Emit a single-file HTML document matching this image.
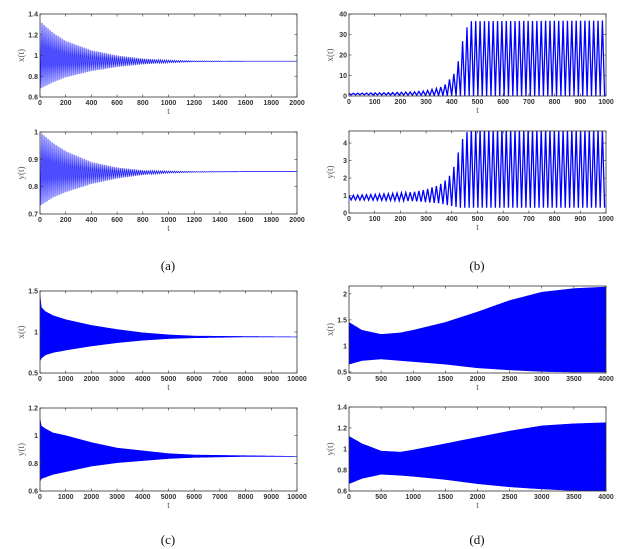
<!DOCTYPE html>
<html><head><meta charset="utf-8"><style>
html,body{margin:0;padding:0;background:#fff;}
svg{display:block;}
.tk{font-family:"Liberation Sans",sans-serif;font-size:7px;font-weight:bold;fill:#333;}
.al{font-family:"Liberation Serif",serif;font-size:9px;fill:#555;}
.pl{font-family:"Liberation Serif",serif;font-size:13px;fill:#111;}
</style></head><body>
<svg id="fig" width="628" height="549" viewBox="0 0 628 549" xmlns="http://www.w3.org/2000/svg">
<text class="pl" x="168" y="270" text-anchor="middle">(a)</text>
<text class="pl" x="477" y="270" text-anchor="middle">(b)</text>
<text class="pl" x="168" y="544" text-anchor="middle">(c)</text>
<text class="pl" x="477" y="544" text-anchor="middle">(d)</text>
</svg>
<script>
// ---- data (envelope samples) ----
const aT = [0,100,200,400,600,800,1000,1200,1600,2000];
const aXUp = [1.33,1.22,1.14,1.05,1.0,0.97,0.955,0.948,0.945,0.945];
const aXLo = [0.68,0.74,0.79,0.85,0.89,0.915,0.93,0.94,0.945,0.945];
const aYUp = [1.0,0.96,0.93,0.89,0.87,0.86,0.857,0.855,0.855,0.855];
const aYLo = [0.73,0.76,0.78,0.81,0.83,0.843,0.85,0.853,0.855,0.855];

const bT = [0,150,250,300,350,370,390,405,420,435,450,470,1000];
const bXUp = [1.3,1.6,2,2.5,4,5,8,10,14,23,31,36.5,36.8];
const bXLo = [0.6,0.5,0.4,0.3,0.2,0.15,0.1,0.05,0.02,0.01,0,0,0];
const bYUp = [1.0,1.1,1.2,1.35,1.6,1.8,2.1,2.5,3.2,4.0,4.5,4.8,4.8];
const bYLo = [0.75,0.72,0.68,0.62,0.55,0.5,0.42,0.38,0.33,0.3,0.3,0.3,0.3];

const cT = [0,50,200,500,1000,2000,3000,4000,5000,6000,8000,10000];
const cXUp = [1.45,1.3,1.25,1.2,1.15,1.08,1.03,0.99,0.965,0.95,0.945,0.94];
const cXLo = [0.65,0.68,0.72,0.75,0.78,0.83,0.87,0.9,0.92,0.93,0.94,0.94];
const cYUp = [1.12,1.07,1.05,1.02,1.0,0.95,0.91,0.89,0.87,0.86,0.855,0.85];
const cYLo = [0.67,0.69,0.7,0.72,0.74,0.78,0.805,0.82,0.835,0.843,0.85,0.85];

const dT = [0,200,500,800,1000,1500,2000,2500,3000,3500,4000];
const dXUp = [1.45,1.3,1.22,1.25,1.3,1.45,1.65,1.87,2.03,2.1,2.13];
const dXLo = [0.65,0.72,0.75,0.72,0.7,0.65,0.58,0.54,0.51,0.5,0.5];
const dYUp = [1.12,1.05,0.98,0.97,0.99,1.05,1.11,1.17,1.22,1.24,1.25];
const dYLo = [0.67,0.72,0.76,0.75,0.74,0.71,0.67,0.64,0.62,0.605,0.6];

const aXTicks = [0,200,400,600,800,1000,1200,1400,1600,1800,2000];
const bXTicks = [0,100,200,300,400,500,600,700,800,900,1000];
const cXTicks = [0,1000,2000,3000,4000,5000,6000,7000,8000,9000,10000];
const dXTicks = [0,500,1000,1500,2000,2500,3000,3500,4000];
const aXYTicks = [0.6,0.8,1,1.2,1.4];
const aYYTicks = [0.7,0.8,0.9,1];
const bXYTicks = [0,10,20,30,40];
const bYYTicks = [0,1,2,3,4];
const cXYTicks = [0.5,1,1.5];
const cYYTicks = [0.6,0.8,1,1.2];
const dXYTicks = [0.5,1,1.5,2];
const dYYTicks = [0.6,0.8,1,1.2,1.4];

const NS='http://www.w3.org/2000/svg';
const fig=document.getElementById('fig');
function mk(tag,attrs,parent){const e=document.createElementNS(NS,tag);for(const k in attrs)e.setAttribute(k,attrs[k]);(parent||fig).appendChild(e);return e;}
function interp(ts,vs,t){if(t<=ts[0])return vs[0];for(let i=1;i<ts.length;i++){if(t<=ts[i]){const f=(t-ts[i-1])/(ts[i]-ts[i-1]);return vs[i-1]+f*(vs[i]-vs[i-1]);}}return vs[vs.length-1];}

function panel(id,box,xlim,ylim,xt,yt,ylab,T,UP,LO,period,lw){
  const g=mk('g',{});
  
  
  const [x0,y0,x1,y1]=box;
  const sx=v=>x0+(v-xlim[0])/(xlim[1]-xlim[0])*(x1-x0);
  const sy=v=>y1-(v-ylim[0])/(ylim[1]-ylim[0])*(y1-y0);
  const cp=mk('clipPath',{id:'cp-'+id},g);mk('rect',{x:x0,y:y0,width:x1-x0,height:y1-y0},cp);
  let p;
  if(period>0){
    let d='';let t=xlim[0];let up=true;
    while(t<=xlim[1]){const v=up?interp(T,UP,t):interp(T,LO,t);d+=(d?'L':'M')+sx(t).toFixed(2)+' '+sy(v).toFixed(2);t+=period/2;up=!up;}
    p=mk('path',{d:d,fill:'none',stroke:'#0000ff','stroke-width':lw,'clip-path':'url(#cp-'+id+')'},g);
  } else {
    const N=400;let d='';
    for(let i=0;i<=N;i++){const t=xlim[0]+(xlim[1]-xlim[0])*i/N;d+=(i?'L':'M')+sx(t).toFixed(2)+' '+sy(interp(T,UP,t)).toFixed(2);}
    for(let i=N;i>=0;i--){const t=xlim[0]+(xlim[1]-xlim[0])*i/N;d+='L'+sx(t).toFixed(2)+' '+sy(interp(T,LO,t)).toFixed(2);}
    d+='Z';
    p=mk('path',{d:d,fill:'#0000ff',stroke:'#0000ff','stroke-width':0.6,'stroke-linejoin':'round','clip-path':'url(#cp-'+id+')'},g);
  }
  
  
  mk('rect',{x:x0,y:y0,width:x1-x0,height:y1-y0,fill:'none',stroke:'#333','stroke-width':0.8},g);
  xt.forEach(v=>{const x=sx(v);mk('line',{x1:x,y1:y1,x2:x,y2:y1-2.5,stroke:'#333','stroke-width':0.6},g);mk('line',{x1:x,y1:y0,x2:x,y2:y0+2.5,stroke:'#333','stroke-width':0.6},g);
    const tx=mk('text',{class:'tk',x:x,y:y1+8,'text-anchor':'middle'},g);tx.textContent=v;});
  yt.forEach(v=>{const y=sy(v);mk('line',{x1:x0,y1:y,x2:x0+2.5,y2:y,stroke:'#333','stroke-width':0.6},g);mk('line',{x1:x1,y1:y,x2:x1-2.5,y2:y,stroke:'#333','stroke-width':0.6},g);
    const tx=mk('text',{class:'tk',x:x0-2,y:y+2.5,'text-anchor':'end'},g);tx.textContent=v;});
  const xl=mk('text',{class:'al',x:(x0+x1)/2,y:y1+17,'text-anchor':'middle'},g);xl.textContent='t';
  
  
  const yl=mk('text',{class:'al',transform:'translate('+(x0-16)+','+((y0+y1)/2)+') rotate(-90)','text-anchor':'middle'},g);yl.textContent=ylab;
  
  
}
panel('panel-a-x',[40,14,297,97],[0,2000],[0.6,1.4],aXTicks,aXYTicks,'x(t)',aT,aXUp,aXLo,15.6,0.7);
panel('panel-a-y',[40,132,297,214],[0,2000],[0.7,1.0],aXTicks,aYYTicks,'y(t)',aT,aYUp,aYLo,15.6,0.7);
panel('panel-b-x',[349,14,606,96],[0,1000],[0,40],bXTicks,bXYTicks,'x(t)',bT,bXUp,bXLo,17,1.3);
panel('panel-b-y',[349,131,606,213],[0,1000],[0,4.69],bXTicks,bYYTicks,'y(t)',bT,bYUp,bYLo,17,1.3);
panel('panel-c-x',[40,291,297,373],[0,10000],[0.5,1.5],cXTicks,cXYTicks,'x(t)',cT,cXUp,cXLo,0,0);
panel('panel-c-y',[40,408,297,491],[0,10000],[0.6,1.2],cXTicks,cYYTicks,'y(t)',cT,cYUp,cYLo,0,0);
panel('panel-d-x',[349,286,606,373],[0,4000],[0.48,2.15],dXTicks,dXYTicks,'x(t)',dT,dXUp,dXLo,0,0);
panel('panel-d-y',[349,407,606,491],[0,4000],[0.6,1.4],dXTicks,dYYTicks,'y(t)',dT,dYUp,dYLo,0,0);
</script>
</body></html>
